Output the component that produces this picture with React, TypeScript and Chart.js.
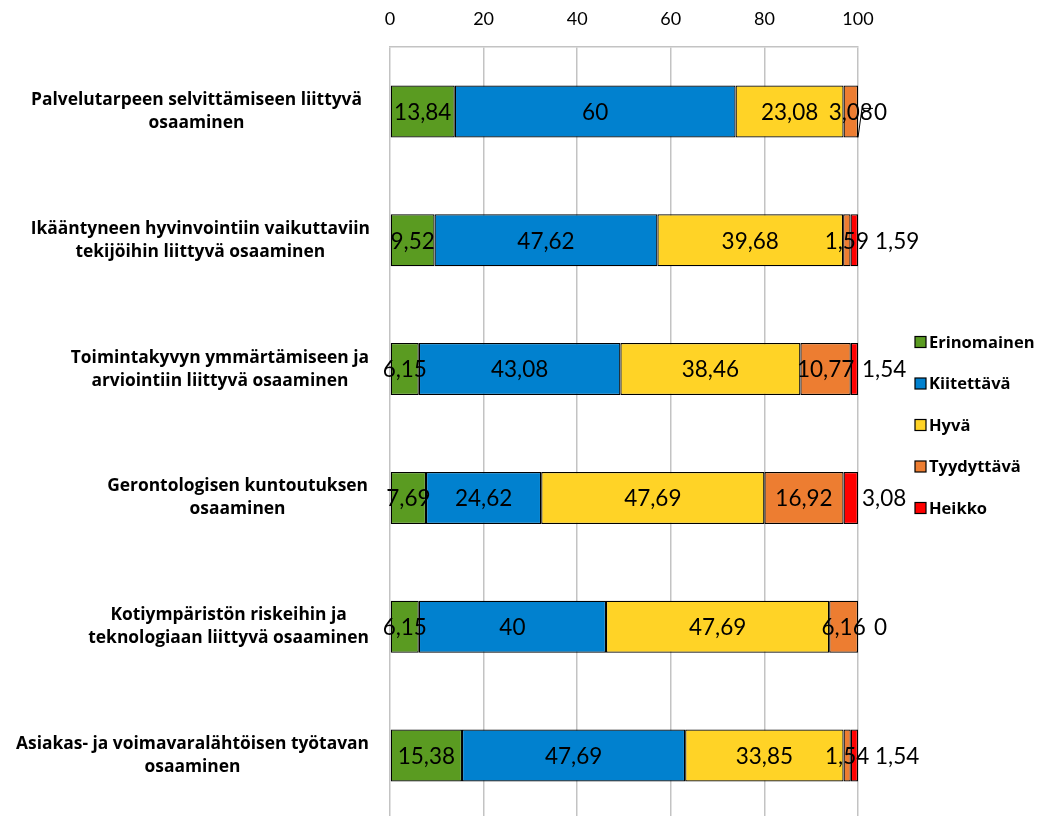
import { useEffect, useRef } from "react";
import { Chart, registerables } from "chart.js";

Chart.register(...registerables);

// Competence areas (two-line labels)
const categories: string[][] = [
  ["Palvelutarpeen selvittämiseen liittyvä", "osaaminen"],
  ["Ikääntyneen hyvinvointiin vaikuttaviin", "tekijöihin liittyvä osaaminen"],
  ["Toimintakyvyn ymmärtämiseen ja", "arviointiin liittyvä osaaminen"],
  ["Gerontologisen kuntoutuksen", "osaaminen"],
  ["Kotiympäristön riskeihin ja", "teknologiaan liittyvä osaaminen"],
  ["Asiakas- ja voimavaralähtöisen työtavan", "osaaminen"],
];

// Shares of answers (%) per rating
const erinomainen = [13.84, 9.52, 6.15, 7.69, 6.15, 15.38];
const kiitettava = [60, 47.62, 43.08, 24.62, 40, 47.69];
const hyva = [23.08, 39.68, 38.46, 47.69, 47.69, 33.85];
const tyydyttava = [3.08, 1.59, 10.77, 16.92, 6.16, 1.54];
const heikko = [0, 1.59, 1.54, 3.08, 0, 1.54];

const seriesNames = ["Erinomainen", "Kiitettävä", "Hyvä", "Tyydyttävä", "Heikko"];
const seriesValues = [erinomainen, kiitettava, hyva, tyydyttava, heikko];
const seriesColors = ["#5a9b21", "#0181cf", "#ffd326", "#ed7d31", "#ff0000"];

const xMin = 0;
const xMax = 100;
const xStep = 20;

// Styling for the outside "Heikko" labels
const outsideLabelGap = [16, 17, 4, 4, 16, 17];
const outsideLeader = [true, false, false, false, false, false];
// Right edge of each category label block
const labelRight = [362, 370, 369, 368, 369, 369];

const FONT = "Lato, 'Open Sans', sans-serif";
const BOLD_FONT = "'Open Sans', Lato, sans-serif";

const fmt = (v: number) => String(v).replace(".", ",");

const categoryLabelPlugin = {
  id: "categoryLabels",
  afterDraw(chart: any) {
    const { ctx } = chart;
    const y = chart.scales.y;
    const lineH = 23;
    ctx.save();
    ctx.font = `bold 17.4px ${BOLD_FONT}`;
    ctx.fillStyle = "#000";
    ctx.textAlign = "center";
    ctx.textBaseline = "middle";
    categories.forEach((lines, i) => {
      const cy = y.getPixelForTick(i);
      const w = Math.max(...lines.map((l) => ctx.measureText(l).width));
      const cx = labelRight[i] - w / 2;
      lines.forEach((l, k) => {
        ctx.fillText(l, cx, cy + (k - (lines.length - 1) / 2) * lineH);
      });
    });
    ctx.restore();
  },
};

const valueLabelPlugin = {
  id: "valueLabels",
  afterDatasetsDraw(chart: any) {
    const { ctx, chartArea } = chart;
    ctx.save();
    ctx.font = `22.5px ${FONT}`;
    ctx.fillStyle = "#000";
    ctx.textBaseline = "middle";
    chart.data.datasets.forEach((ds: any, di: number) => {
      const meta = chart.getDatasetMeta(di);
      meta.data.forEach((bar: any, j: number) => {
        const v = ds.data[j];
        const text = fmt(v);
        if (di < chart.data.datasets.length - 1) {
          ctx.textAlign = "center";
          ctx.fillText(text, (bar.x + bar.base) / 2, bar.y + 1);
        } else {
          const end = Math.max(bar.x, bar.base);
          const lx = chartArea.right + outsideLabelGap[j];
          ctx.textAlign = "left";
          ctx.fillText(text, lx, bar.y + 1);
          if (outsideLeader[j]) {
            ctx.beginPath();
            ctx.strokeStyle = "#000";
            ctx.lineWidth = 1;
            ctx.moveTo(end, bar.y + bar.height / 2);
            ctx.lineTo(end + 4, bar.y - 3);
            ctx.lineTo(lx - 1, bar.y - 3);
            ctx.stroke();
          }
        }
      });
    });
    ctx.restore();
  },
};

const legendPlugin = {
  id: "sideLegend",
  afterDraw(chart: any) {
    const { ctx } = chart;
    const x0 = 915;
    const y0 = 342;
    const gap = 41.5;
    const box = 11;
    ctx.save();
    ctx.font = `bold 16.5px ${BOLD_FONT}`;
    ctx.textAlign = "left";
    ctx.textBaseline = "middle";
    seriesNames.forEach((name, i) => {
      const cy = y0 + i * gap;
      ctx.fillStyle = seriesColors[i];
      ctx.fillRect(x0, cy - box / 2, box, box);
      ctx.strokeStyle = "#000";
      ctx.lineWidth = 1.2;
      ctx.strokeRect(x0, cy - box / 2, box, box);
      ctx.fillStyle = "#000";
      ctx.fillText(name, x0 + box + 3, cy + 1);
    });
    ctx.restore();
  },
};

export default function App() {
  const canvasRef = useRef<HTMLCanvasElement | null>(null);

  useEffect(() => {
    if (!canvasRef.current) return;
    const chart = new Chart(canvasRef.current, {
      type: "bar",
      data: {
        labels: categories.map((c) => c.join(" ")),
        datasets: seriesNames.map((name, i) => ({
          label: name,
          data: seriesValues[i],
          backgroundColor: seriesColors[i],
          borderColor: "#000",
          borderWidth: 1.25,
          borderSkipped: false,
          barPercentage: 0.404,
          categoryPercentage: 1,
        })),
      },
      options: {
        indexAxis: "y",
        responsive: false,
        animation: false,
        devicePixelRatio: 1,
        layout: { padding: { top: 0, left: 0, right: 188, bottom: 4 } },
        plugins: {
          legend: { display: false },
          tooltip: { enabled: false },
        },
        scales: {
          x: {
            position: "top",
            stacked: true,
            min: xMin,
            max: xMax,
            ticks: {
              stepSize: xStep,
              padding: 17,
              color: "#000",
              font: { family: FONT, size: 18 },
            },
            grid: { color: "#c3c3c3", lineWidth: 1.5, drawTicks: false },
            border: { display: true, color: "#c3c3c3", width: 1.5 },
            afterFit: (s: any) => {
              s.height = 47;
            },
          },
          y: {
            stacked: true,
            ticks: { display: false },
            grid: { display: false },
            border: { display: false },
            afterFit: (s: any) => {
              s.width = 390;
            },
          },
        },
      },
      plugins: [valueLabelPlugin, categoryLabelPlugin, legendPlugin],
    });
    return () => chart.destroy();
  }, []);

  return (
    <div
      style={{
        position: "fixed",
        left: 0,
        top: 0,
        width: 1046,
        height: 816,
        overflow: "hidden",
        background: "#fff",
      }}
    >
      <canvas ref={canvasRef} width={1046} height={824} />
    </div>
  );
}
